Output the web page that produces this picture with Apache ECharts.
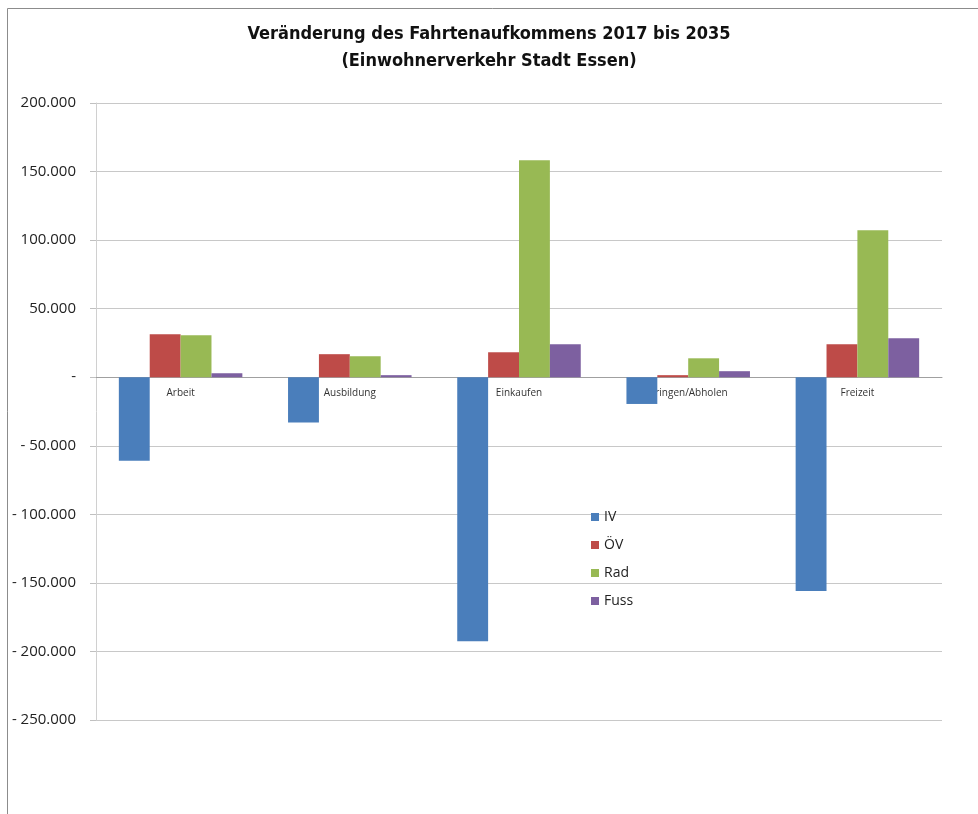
<!DOCTYPE html>
<html><head><meta charset="utf-8">
<script src="https://cdn.jsdelivr.net/npm/echarts@6/dist/echarts.min.js"></script>
<style>html,body{margin:0;padding:0;background:#fff}#c{width:978px;height:814px}</style>
</head><body><div id="c"></div>
<script>
const categories = ['Arbeit', 'Ausbildung', 'Einkaufen', 'Bringen/Abholen', 'Freizeit'];
const seriesNames = ['IV', 'ÖV', 'Rad', 'Fuss'];
const ivValues = [-61000, -33000, -192500, -19500, -156000];
const oevValues = [31300, 16800, 18200, 1500, 24000];
const radValues = [30600, 15300, 158200, 13800, 107200];
const fussValues = [2900, 1500, 24000, 4400, 28400];
const colors = ['#4a7ebb', '#be4b48', '#98b954', '#7d60a0'];
const yTicks = {min: -250000, max: 200000, interval: 50000};

function fmt(v) {
  if (v === 0) return '-';
  const s = Math.abs(v).toString().replace(/\B(?=(\d{3})+(?!\d))/g, '.');
  return v < 0 ? '- ' + s : s;
}
const allValues = [ivValues, oevValues, radValues, fussValues];
const chart = echarts.init(document.getElementById('c'));
chart.setOption({
  animation: false,
  backgroundColor: '#fff',
  title: {
    text: 'Veränderung des Fahrtenaufkommens 2017 bis 2035\n(Einwohnerverkehr Stadt Essen)',
    left: 'center', top: 16,
    textStyle: {fontFamily: "'DejaVu Sans Condensed', 'Open Sans', sans-serif", fontSize: 18, fontWeight: 'bold', color: '#111', lineHeight: 27}
  },
  graphic: [
    {type: 'line', shape: {x1: 7.5, y1: 8.5, x2: 978, y2: 8.5}, style: {stroke: '#8c8c8c', lineWidth: 1}, silent: true},
    {type: 'line', shape: {x1: 7.5, y1: 8.5, x2: 7.5, y2: 814}, style: {stroke: '#8c8c8c', lineWidth: 1}, silent: true}
  ],
  legend: {
    orient: 'vertical', left: 586, top: 505, itemWidth: 8, itemHeight: 8, itemGap: 14,
    icon: 'rect',
    textStyle: {fontFamily: 'Open Sans', fontSize: 14, color: '#222'},
    data: seriesNames
  },
  grid: {left: 96, right: 36, top: 103, bottom: 94, containLabel: false},
  xAxis: {
    type: 'category', data: categories,
    offset: -343,
    axisLine: {onZero: false, lineStyle: {color: '#a0a0a0'}},
    axisTick: {show: false},
    axisLabel: {fontFamily: 'Open Sans', fontSize: 10, color: '#333', margin: 11}
  },
  yAxis: {
    type: 'value', min: yTicks.min, max: yTicks.max, interval: yTicks.interval,
    axisLine: {show: true, lineStyle: {color: '#d0d0d0'}},
    axisTick: {show: true, length: 6, lineStyle: {color: '#c0c0c0'}},
    splitLine: {lineStyle: {color: '#c8c8c8'}},
    axisLabel: {fontFamily: 'Open Sans', fontSize: 15, color: '#222', margin: 20, formatter: fmt}
  },
  series: seriesNames.map((n, i) => ({
    name: n, type: 'bar', data: allValues[i],
    barGap: '0%', barCategoryGap: '27%',
    itemStyle: {color: colors[i]}
  }))
});
</script></body></html>
